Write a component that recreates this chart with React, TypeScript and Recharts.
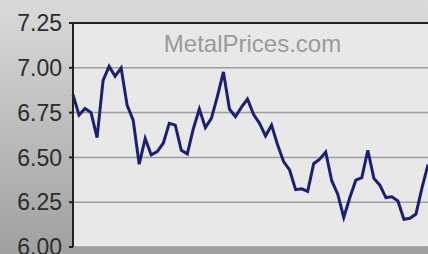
import { LineChart, Line, XAxis, YAxis, CartesianGrid, ReferenceLine } from 'recharts';

// price samples, read left to right off the reference
const prices: number[] = [
  6.85, 6.736, 6.773, 6.75, 6.61, 6.93, 7.008, 6.953, 6.999, 6.79,
  6.708, 6.462, 6.606, 6.514, 6.532, 6.579, 6.69, 6.68, 6.54, 6.52,
  6.66, 6.77, 6.666, 6.718, 6.84, 6.977, 6.77, 6.727, 6.78, 6.825,
  6.74, 6.69, 6.62, 6.68, 6.57, 6.477, 6.43, 6.32, 6.325, 6.31,
  6.465, 6.49, 6.53, 6.37, 6.295, 6.165, 6.275, 6.373, 6.387, 6.54,
  6.383, 6.345, 6.276, 6.28, 6.257, 6.155, 6.16, 6.184, 6.33, 6.46,
];

const yTicks: number[] = [6.0, 6.25, 6.5, 6.75, 7.0, 7.25];

const watermark = 'MetalPrices.com';

const data = prices.map((price, i) => ({ idx: i, price }));

const font = '"Liberation Sans", Arial, sans-serif';

export default function App() {
  return (
    <div
      style={{
        position: 'relative',
        width: 428,
        height: 254,
        overflow: 'hidden',
        background: 'linear-gradient(#dadada, #a0a0a0)',
        fontFamily: font,
      }}
    >
      <style>{'body{margin:0}'}</style>
      <LineChart width={428} height={254} data={data} margin={{ top: 23, right: 0, bottom: 7, left: 0 }}>
        <CartesianGrid vertical={false} stroke="#9c9c9c" strokeWidth={1.5} fill="#e8e8e8" fillOpacity={1} />
        <XAxis dataKey="idx" tick={false} tickLine={false} height={0} axisLine={{ stroke: '#222', strokeWidth: 2 }} />
        <YAxis
          type="number"
          domain={[6, 7.25]}
          ticks={yTicks}
          interval={0}
          width={73}
          tickFormatter={(v: number) => v.toFixed(2)}
          tick={{ fontSize: 23, fill: '#2c2c2c', fontFamily: font }}
          tickSize={4}
          tickMargin={7}
          tickLine={{ stroke: '#222', strokeWidth: 2 }}
          axisLine={{ stroke: '#222', strokeWidth: 2 }}
        />
        <ReferenceLine y={7.25} stroke="#222" strokeWidth={2} />
        <Line
          type="linear"
          dataKey="price"
          stroke="#1c2070"
          strokeWidth={3}
          dot={false}
          isAnimationActive={false}
        />
      </LineChart>
      <div
        style={{
          position: 'absolute',
          left: 73,
          width: 359,
          top: 32,
          lineHeight: '24px',
          fontSize: 24,
          color: '#9a9a9a',
          textAlign: 'center',
        }}
      >
        {watermark}
      </div>
    </div>
  );
}
